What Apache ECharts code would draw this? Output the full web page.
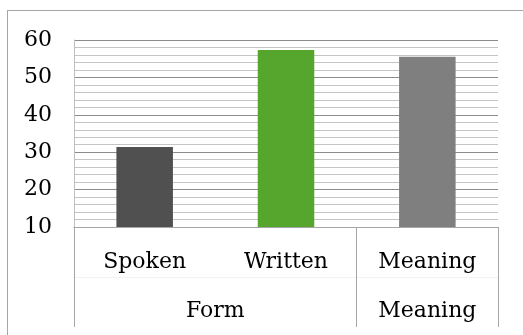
<!DOCTYPE html>
<html>
<head>
<meta charset="utf-8">
<script src="https://cdn.jsdelivr.net/npm/echarts@6.0.0/dist/echarts.min.js"></script>
<style>
  html, body { margin: 0; padding: 0; background: #fff; }
  #frame { position: absolute; left: 7px; top: 10px; width: 600px; height: 400px;
           border-left: 1px solid #a6a6a6; border-top: 1px solid #a6a6a6; }
  #chart { position: absolute; left: 0; top: 0; width: 523px; height: 335px; }
</style>
</head>
<body>
<div id="frame"></div>
<div id="chart"></div>
<script>
// Bar categories (inner level) and their values
const categories = ['Spoken', 'Written', 'Meaning'];
const values = [31.4, 57.3, 55.5];
const barColors = ['#505050', '#56a52c', '#7f7f7f'];

// Outer grouping level: label and number of categories each group spans
const groupLabels = ['Form', 'Meaning'];
const groupSpans = [2, 1];

// Y axis range
const yMin = 10, yMax = 60, yStep = 10;

// Derive group centres and boundaries along a 0..N value scale
const groupCenters = [];
const groupBounds = [0];
let acc = 0;
groupSpans.forEach(s => { groupCenters.push(acc + s / 2); acc += s; groupBounds.push(acc); });

const font = 'DejaVu Serif';
const labelStyle = { color: '#000', fontFamily: font, fontSize: 22 };
const chart = echarts.init(document.getElementById('chart'));

chart.setOption({
  animation: false,
  textStyle: { fontFamily: font },
  grid: { left: 74, right: 25, top: 40, bottom: 108 },
  xAxis: [
    {
      type: 'category',
      data: categories,
      position: 'bottom',
      axisLine: { show: true, lineStyle: { color: '#a6a6a6', width: 1 } },
      axisTick: { show: false },
      axisLabel: Object.assign({ margin: 24 }, labelStyle)
    },
    {
      type: 'value',
      min: 0, max: categories.length,
      position: 'bottom',
      splitLine: { show: false },
      axisLine: { show: true, lineStyle: { color: '#a6a6a6', width: 1 } },
      axisTick: { show: true, customValues: groupBounds, length: 100, inside: false,
                  lineStyle: { color: '#a6a6a6', width: 1 } },
      axisLabel: Object.assign({
        show: true, customValues: groupCenters, margin: 73,
        formatter: v => groupLabels[groupCenters.indexOf(v)] || ''
      }, labelStyle)
    },
    {
      type: 'value',
      min: 0, max: categories.length,
      position: 'bottom',
      offset: 50,
      splitLine: { show: false },
      axisLine: { show: true, lineStyle: { color: '#f2f2f2', width: 1 } },
      axisTick: { show: false },
      axisLabel: { show: false }
    }
  ],
  yAxis: {
    type: 'value',
    min: yMin, max: yMax, interval: yStep,
    axisLine: { show: true, lineStyle: { color: '#bfbfbf', width: 1 } },
    axisTick: { show: false },
    axisLabel: Object.assign({ margin: 22 }, labelStyle),
    splitLine: { show: true, lineStyle: { color: '#8c8c8c', width: 1 } },
    minorTick: { show: false, splitNumber: 5 },
    minorSplitLine: { show: true, lineStyle: { color: '#c4c4c4', width: 1 } }
  },
  series: [{
    type: 'bar',
    xAxisIndex: 0,
    barWidth: '40%',
    data: values.map((v, i) => ({ value: v, itemStyle: { color: barColors[i] } }))
  }]
});
</script>
</body>
</html>
